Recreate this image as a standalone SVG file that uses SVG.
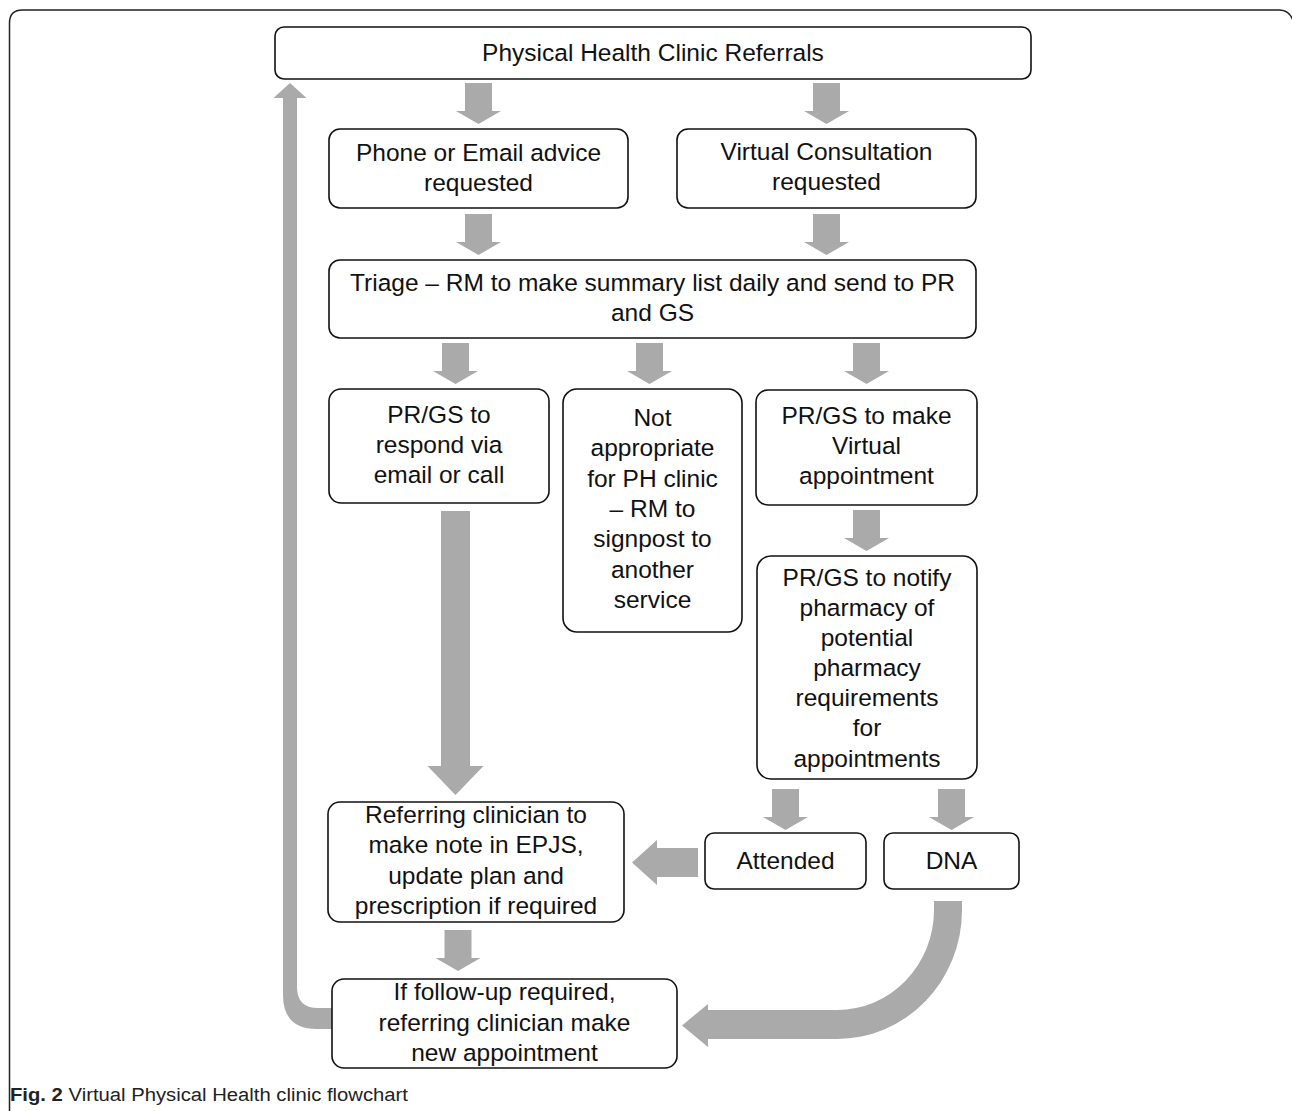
<svg xmlns="http://www.w3.org/2000/svg" xmlns:xlink="http://www.w3.org/1999/xlink" width="1292" height="1111" viewBox="0 0 1292 1111">
<style>
.box{fill:#ffffff;stroke:#111111;stroke-width:1.6}
.t{font-family:"Liberation Sans",Arial,sans-serif;font-size:24.5px;fill:#111111;text-anchor:middle}
.arr{fill:#aaaaaa}
.cap{font-family:"Liberation Sans",Arial,sans-serif;font-size:18px;fill:#222222}
</style>
<defs>
<path id="down" d="M-13.5,0 H13.5 V28 H22.5 L0,41 L-22.5,28 H-13.5 Z"/>
</defs>
<rect width="1292" height="1111" fill="#ffffff"/>
<path d="M9.5,1111 V23 Q9.5,10 22.5,10 H1279 Q1291,10 1294,24 V1111" fill="none" stroke="#222222" stroke-width="1.5"/>

<g id="connectors" class="arr">
<use xlink:href="#down" href="#down" x="478.5" y="83"/>
<use xlink:href="#down" href="#down" x="826.5" y="83"/>
<use xlink:href="#down" href="#down" x="478.5" y="214"/>
<use xlink:href="#down" href="#down" x="826.5" y="214"/>
<use xlink:href="#down" href="#down" x="455.5" y="343"/>
<use xlink:href="#down" href="#down" x="649.5" y="343"/>
<use xlink:href="#down" href="#down" x="866.5" y="343"/>
<use xlink:href="#down" href="#down" x="866.5" y="510"/>
<use xlink:href="#down" href="#down" x="785.5" y="789"/>
<use xlink:href="#down" href="#down" x="951.5" y="789"/>
<use xlink:href="#down" href="#down" x="458" y="930"/>
<path d="M441,511 H470 V766 H483.5 L455.5,795 L427.5,766 H441 Z"/>
<path d="M698,848 V877 H657 V885 L632,862.5 L657,840 V848 Z"/>
<path d="M934,901 H962 V910 A125,129 0 0 1 837,1039 H708 V1047 L682,1025.5 L708,1004 V1010 H837 A97,100 0 0 0 934,910 Z"/>
<path d="M332,1008 H318 Q297,1008 297,987 V98 H306.5 L290,83 L273.5,98 H283 V995 Q283,1029 317,1029 H332 Z"/>
</g>

<g id="n-referrals">
<rect class="box" x="275" y="27" width="756" height="52" rx="9"/>
<text class="t" x="653" y="61">Physical Health Clinic Referrals</text>
</g>
<g id="n-phone">
<rect class="box" x="329" y="129" width="299" height="79" rx="11"/>
<text class="t" x="478.5" y="161">Phone or Email advice</text>
<text class="t" x="478.5" y="191">requested</text>
</g>
<g id="n-virtual">
<rect class="box" x="677" y="129" width="299" height="79" rx="11"/>
<text class="t" x="826.5" y="160">Virtual Consultation</text>
<text class="t" x="826.5" y="190">requested</text>
</g>
<g id="n-triage">
<rect class="box" x="329" y="260" width="647" height="78" rx="11"/>
<text class="t" x="652.5" y="291">Triage – RM to make summary list daily and send to PR</text>
<text class="t" x="652.5" y="321">and GS</text>
</g>
<g id="n-respond">
<rect class="box" x="329" y="389" width="220" height="114" rx="12"/>
<text class="t" x="439" y="423">PR/GS to</text>
<text class="t" x="439" y="453">respond via</text>
<text class="t" x="439" y="483">email or call</text>
</g>
<g id="n-notappropriate">
<rect class="box" x="563" y="389" width="179" height="243" rx="14"/>
<text class="t" x="652.5" y="426">Not</text>
<text class="t" x="652.5" y="456">appropriate</text>
<text class="t" x="652.5" y="487">for PH clinic</text>
<text class="t" x="652.5" y="517">– RM to</text>
<text class="t" x="652.5" y="547">signpost to</text>
<text class="t" x="652.5" y="578">another</text>
<text class="t" x="652.5" y="608">service</text>
</g>
<g id="n-makevirtual">
<rect class="box" x="756" y="390" width="221" height="115" rx="12"/>
<text class="t" x="866.5" y="424">PR/GS to make</text>
<text class="t" x="866.5" y="454">Virtual</text>
<text class="t" x="866.5" y="484">appointment</text>
</g>
<g id="n-notify">
<rect class="box" x="757" y="556" width="220" height="223" rx="14"/>
<text class="t" x="867" y="586">PR/GS to notify</text>
<text class="t" x="867" y="616">pharmacy of</text>
<text class="t" x="867" y="646">potential</text>
<text class="t" x="867" y="676">pharmacy</text>
<text class="t" x="867" y="706">requirements</text>
<text class="t" x="867" y="736">for</text>
<text class="t" x="867" y="767">appointments</text>
</g>
<g id="n-attended">
<rect class="box" x="705" y="833" width="161" height="56" rx="9"/>
<text class="t" x="785.5" y="869">Attended</text>
</g>
<g id="n-dna">
<rect class="box" x="884" y="833" width="135" height="56" rx="9"/>
<text class="t" x="951.5" y="869">DNA</text>
</g>
<g id="n-referring">
<rect class="box" x="328" y="802" width="296" height="120" rx="12"/>
<text class="t" x="476" y="823">Referring clinician to</text>
<text class="t" x="476" y="853">make note in EPJS,</text>
<text class="t" x="476" y="884">update plan and</text>
<text class="t" x="476" y="914">prescription if required</text>
</g>
<g id="n-followup">
<rect class="box" x="332" y="979" width="345" height="89" rx="12"/>
<text class="t" x="504.5" y="1000">If follow-up required,</text>
<text class="t" x="504.5" y="1031">referring clinician make</text>
<text class="t" x="504.5" y="1061">new appointment</text>
</g>
<text class="cap" x="10" y="1101" textLength="398" lengthAdjust="spacingAndGlyphs"><tspan font-weight="bold">Fig. 2</tspan> Virtual Physical Health clinic flowchart</text>
</svg>
